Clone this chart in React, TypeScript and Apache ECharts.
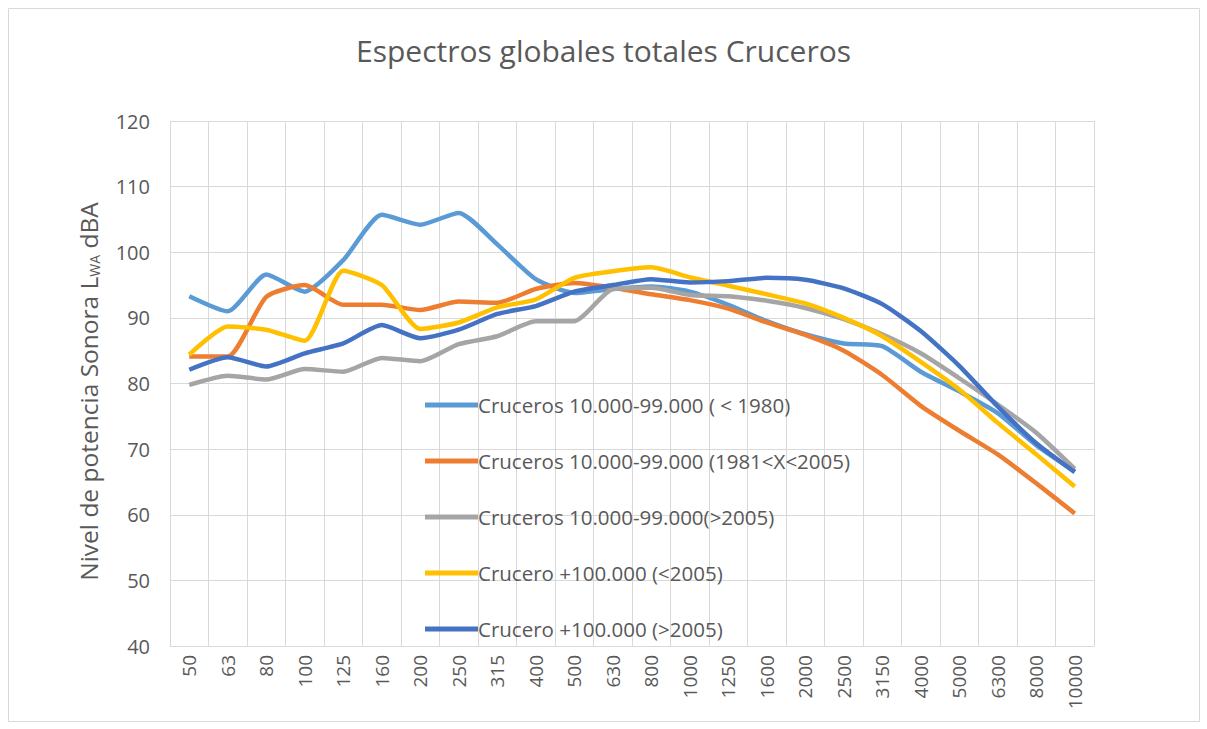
import React, { useEffect, useRef } from "react";
import * as echarts from "echarts";

const categories = ["50","63","80","100","125","160","200","250","315","400","500","630","800","1000","1250","1600","2000","2500","3150","4000","5000","6300","8000","10000"];

const seriesNames = [
  "Cruceros 10.000-99.000 ( < 1980)",
  "Cruceros 10.000-99.000 (1981<X<2005)",
  "Cruceros 10.000-99.000(>2005)",
  "Crucero +100.000 (<2005)",
  "Crucero +100.000 (>2005)",
];

const lightBlue = [93.3, 91.0, 96.6, 94.0, 98.8, 105.7, 104.2, 106.0, 101.2, 95.9, 93.8, 94.4, 94.8, 94.0, 92.0, 89.5, 87.5, 86.1, 85.7, 81.8, 78.8, 75.5, 70.6, 66.6];
const orange = [84.1, 84.1, 93.2, 95.0, 92.0, 92.0, 91.2, 92.5, 92.3, 94.4, 95.3, 94.6, 93.6, 92.7, 91.4, 89.3, 87.4, 85.0, 81.3, 76.6, 72.8, 69.2, 64.8, 60.2];
const gray = [79.8, 81.2, 80.6, 82.2, 81.8, 83.9, 83.4, 86.0, 87.2, 89.5, 89.5, 94.4, 94.6, 93.5, 93.3, 92.6, 91.5, 89.8, 87.5, 84.6, 80.8, 76.8, 72.5, 67.0];
const yellow = [84.4, 88.7, 88.2, 86.5, 97.2, 95.0, 88.3, 89.3, 91.6, 92.8, 96.1, 97.1, 97.7, 96.2, 94.9, 93.6, 92.2, 90.0, 87.2, 83.3, 79.1, 74.0, 69.2, 64.3];
const darkBlue = [82.1, 84.0, 82.6, 84.6, 86.1, 88.9, 86.9, 88.2, 90.6, 91.8, 94.0, 95.0, 95.9, 95.4, 95.6, 96.1, 95.8, 94.5, 92.1, 88.0, 82.7, 76.5, 70.9, 66.5];

const seriesData = [lightBlue, orange, gray, yellow, darkBlue];
const colors = ["#5B9BD5", "#ED7D31", "#A5A5A5", "#FFC000", "#4472C4"];

const FONT = "'Open Sans', 'Noto Sans', sans-serif";
const TXT = "#595959";

export default function App() {
  const ref = useRef<HTMLDivElement>(null);
  useEffect(() => {
    if (!ref.current) return;
    const chart = echarts.init(ref.current, undefined, { renderer: "svg" });
    chart.setOption({
      animation: false,
      backgroundColor: "#ffffff",
      textStyle: { fontFamily: FONT },
      title: {
        text: "Espectros globales totales Cruceros",
        left: "center",
        top: 30,
        textStyle: { fontFamily: FONT, fontSize: 30, fontWeight: "normal", color: TXT },
      },
      graphic: [
        {
          type: "rect",
          shape: { x: 8.5, y: 8.5, width: 1191, height: 713 },
          style: { fill: "none", stroke: "#d9d9d9", lineWidth: 1 },
          silent: true,
        },
      ],
      grid: { left: 170, right: 113, top: 121, bottom: 83, containLabel: false },
      legend: {
        orient: "vertical",
        left: 420,
        top: 389,
        itemWidth: 53,
        itemHeight: 5,
        itemGap: 34,
        icon: "rect",
        textStyle: { fontFamily: FONT, fontSize: 20.5, color: TXT, padding: [0, 0, 0, -5], lineHeight: 22 },
        data: seriesNames,
      },
      xAxis: {
        type: "category",
        data: categories,
        boundaryGap: true,
        axisLine: { show: true, lineStyle: { color: "#d9d9d9", width: 1 } },
        axisTick: { show: false },
        splitLine: { show: true, interval: 0, lineStyle: { color: "#d9d9d9", width: 1 } },
        axisLabel: { rotate: 90, interval: 0, fontSize: 19, color: TXT, fontFamily: FONT, margin: 9 },
      },
      yAxis: {
        type: "value",
        min: 40,
        max: 120,
        interval: 10,
        name: "Nivel de potencia Sonora L{sub|WA} dBA",
        nameLocation: "middle",
        nameGap: 69,
        nameRotate: 90,
        nameTextStyle: {
          fontFamily: FONT,
          fontSize: 24.5,
          color: TXT,
          padding: [0, 16, 0, 0],
          rich: {
            sub: { fontFamily: FONT, fontSize: 14, color: TXT, verticalAlign: "bottom", padding: [11, 0, 0, 0] },
          },
        },
        axisLine: { show: false },
        axisTick: { show: false },
        splitLine: { show: true, lineStyle: { color: "#d9d9d9", width: 1 } },
        axisLabel: { fontSize: 20, color: TXT, fontFamily: FONT, margin: 20 },
      },
      series: seriesNames.map((name, i) => ({
        name,
        type: "line",
        data: seriesData[i],
        smooth: 0.2,
        showSymbol: false,
        symbol: "none",
        color: colors[i],
        lineStyle: { color: colors[i], width: 4.5 },
        z: 2 + i,
      })),
    });
    return () => chart.dispose();
  }, []);
  return (
    <div
      ref={ref}
      style={{ position: "absolute", left: 0, top: 0, width: 1207, height: 729 }}
    />
  );
}
